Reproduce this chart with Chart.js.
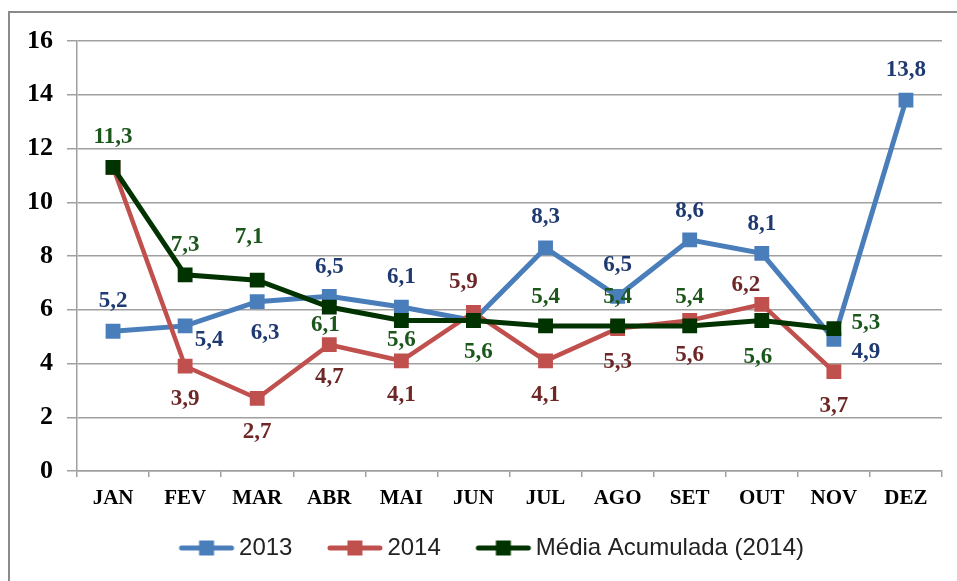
<!DOCTYPE html>
<html>
<head>
<meta charset="utf-8">
<script src="https://cdn.jsdelivr.net/npm/chart.js@4/dist/chart.umd.min.js"></script>
<style>
  html, body { margin: 0; padding: 0; background: #fff; }
  #wrap { position: relative; width: 957px; height: 581px; overflow: hidden; }
  #frame { position: absolute; left: 8px; top: 11px; width: 970px; height: 600px; border: 2px solid #8a8a8a; box-sizing: border-box; }
  canvas { position: absolute; left: 0; top: 0; }
</style>
</head>
<body>
<div id="wrap">
  <div id="frame"></div>
  <canvas id="chart" width="957" height="581"></canvas>
</div>
<script>
// data
var months = ['JAN', 'FEV', 'MAR', 'ABR', 'MAI', 'JUN', 'JUL', 'AGO', 'SET', 'OUT', 'NOV', 'DEZ'];
var values2013 = [5.2, 5.4, 6.3, 6.5, 6.1, 5.6, 8.3, 6.5, 8.6, 8.1, 4.9, 13.8];
var values2014 = [11.3, 3.9, 2.7, 4.7, 4.1, 5.9, 4.1, 5.3, 5.6, 6.2, 3.7, null];
var mediaAcumulada = [11.3, 7.3, 7.1, 6.1, 5.6, 5.6, 5.4, 5.4, 5.4, 5.6, 5.3, null];
var seriesNames = ['2013', '2014', 'Média Acumulada (2014)'];
var yMin = 0, yMax = 16, yStep = 2;

// where each value label sits relative to its point (null = no label)
var offsets2013 = [[0,-30],[24,14],[8,31],[0,-29],[0,-30],null,[0,-31],[0,-31],[0,-29],[0,-29],[32,13],[0,-30]];
var offsets2014 = [null,[0,33],[0,34],[0,32],[0,34],[-10,-30],[0,34],[0,33],[0,35],[-16,-19],[0,34],null];
var offsetsMedia = [[0,-30],[0,-30],[-8,-43],[-4,18],[0,20],[5,32],[0,-29],[0,-29],[0,-29],[-4,37],[32,-6],null];

var colBlue = '#4a7ebb', colRed = '#c0504d', colGreen = '#003300';
var lblBlue = '#1f3a70', lblRed = '#6e2727', lblGreen = '#1b561b';
var serif = '"Liberation Serif", "Times New Roman", serif';

function fmt(v) {
    return v.toFixed(1).replace('.', ',');
}

// legend icon: line with square marker (blank on the left gives the gap between items)
function legendIcon(color) {
    var c = document.createElement('canvas');
    c.width = 100; c.height = 20;
    var g = c.getContext('2d');
    g.strokeStyle = color;
    g.lineWidth = 5;
    g.lineCap = 'round';
    g.beginPath();
    g.moveTo(41, 10); g.lineTo(91, 10);
    g.stroke();
    g.fillStyle = color;
    g.fillRect(58.5, 2.5, 15, 15);
    return c;
}

var valueLabels = {
    id: 'valueLabels',
    afterDatasetsDraw: function(chart) {
        var ctx = chart.ctx;
        var sets = [[values2013, offsets2013, lblBlue], [values2014, offsets2014, lblRed], [mediaAcumulada, offsetsMedia, lblGreen]];
        ctx.save();
        ctx.font = 'bold 23px ' + serif;
        ctx.textAlign = 'center';
        ctx.textBaseline = 'middle';
        sets.forEach(function(s, i) {
            var meta = chart.getDatasetMeta(i);
            s[0].forEach(function(v, j) {
                if (v === null || !s[1][j]) return;
                var pt = meta.data[j];
                ctx.fillStyle = s[2];
                ctx.fillText(fmt(v), pt.x + s[1][j][0], pt.y + s[1][j][1]);
            });
        });
        ctx.restore();
    }
};

// nudge the legend so it sits where the original has it
var legendShift = {
    id: 'legendShift',
    afterLayout: function(chart) {
        chart.legend.left += 8;
        chart.legend.right += 8;
    }
};

var ctx = document.getElementById('chart').getContext('2d');
var chart = new Chart(ctx, {
    type: 'line',
    data: {
        labels: months,
        datasets: [{
            label: seriesNames[0],
            data: values2013,
            borderColor: colBlue,
            backgroundColor: colBlue,
            borderWidth: 5,
            pointStyle: 'rect',
            pointRadius: 10.5,
            pointBorderWidth: 0,
            pointLegend: legendIcon(colBlue),
            order: 2
        }, {
            label: seriesNames[1],
            data: values2014,
            borderColor: colRed,
            backgroundColor: colRed,
            borderWidth: 4.5,
            pointStyle: 'rect',
            pointRadius: 10.5,
            pointBorderWidth: 0,
            pointLegend: legendIcon(colRed),
            order: 1
        }, {
            label: seriesNames[2],
            data: mediaAcumulada,
            borderColor: colGreen,
            backgroundColor: colGreen,
            borderWidth: 5,
            pointStyle: 'rect',
            pointRadius: 10.5,
            pointBorderWidth: 0,
            pointLegend: legendIcon(colGreen),
            order: 0
        }]
    },
    options: {
        responsive: false,
        animation: false,
        events: [],
        layout: { padding: { left: 0, right: 15, top: 41, bottom: 11 } },
        scales: {
            x: {
                offset: true,
                grid: { offset: true, drawOnChartArea: false, color: '#a0a0a0', lineWidth: 1.5, tickLength: 6 },
                border: { color: '#a0a0a0', width: 1.5 },
                ticks: {
                    color: '#000',
                    padding: 9,
                    font: { family: serif, size: 21, weight: 'bold' }
                },
                afterFit: function(scale) { scale.height = 55; }
            },
            y: {
                min: yMin,
                max: yMax,
                grid: { color: '#a0a0a0', lineWidth: 1.5, tickLength: 10 },
                border: { color: '#a0a0a0', width: 1.5 },
                ticks: {
                    stepSize: yStep,
                    color: '#000',
                    padding: 14,
                    font: { family: serif, size: 26, weight: 'bold' }
                },
                afterFit: function(scale) { scale.width = 77; }
            }
        },
        plugins: {
            tooltip: { enabled: false },
            legend: {
                position: 'bottom',
                labels: {
                    usePointStyle: true,
                    pointStyleWidth: 73,
                    padding: 10,
                    color: '#222',
                    font: { family: '"Liberation Sans", Arial, sans-serif', size: 24 },
                    generateLabels: function(chart) {
                        return chart.data.datasets.map(function(ds, i) {
                            return {
                                text: ds.label,
                                fontColor: '#222',
                                pointStyle: ds.pointLegend,
                                lineWidth: 0,
                                strokeStyle: ds.borderColor,
                                fillStyle: ds.borderColor,
                                hidden: false,
                                datasetIndex: i
                            };
                        });
                    }
                }
            }
        }
    },
    plugins: [valueLabels, legendShift]
});
</script>
</body>
</html>
